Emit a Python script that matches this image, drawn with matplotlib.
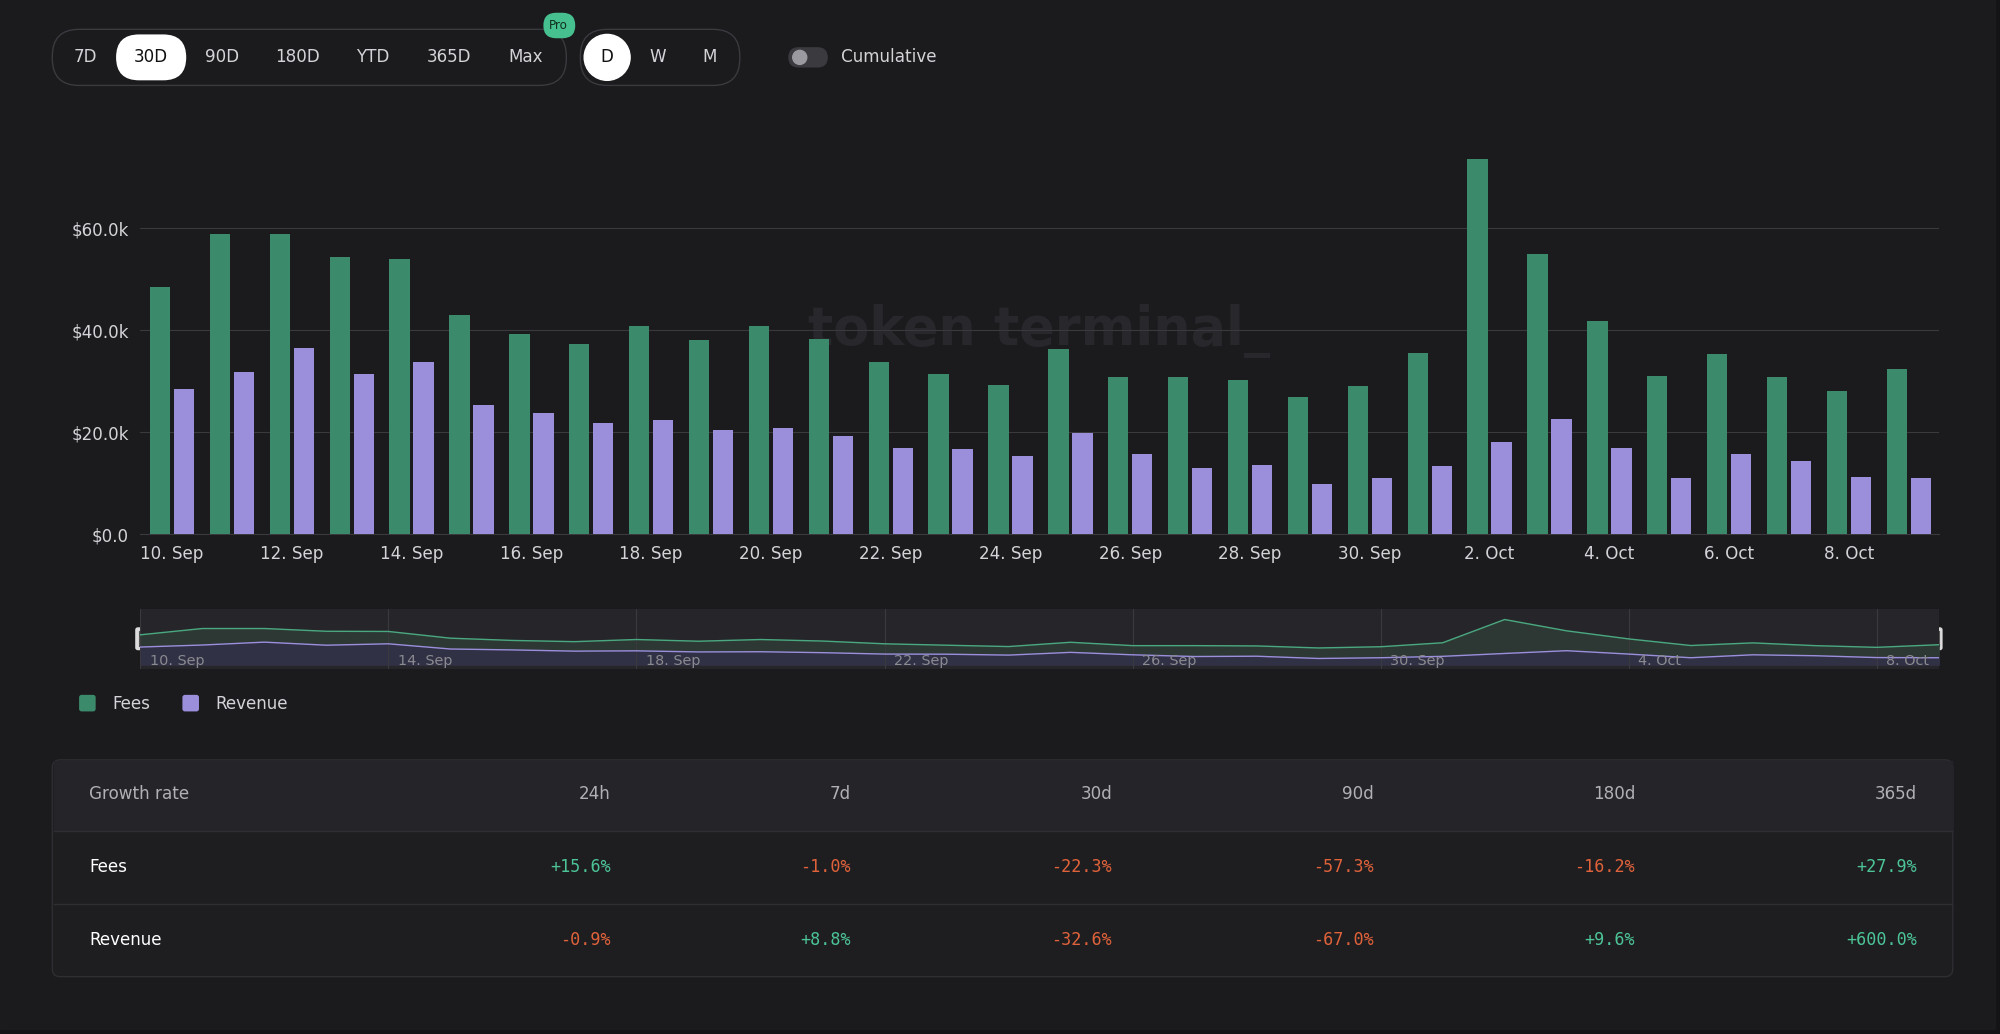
import numpy as np
import matplotlib.pyplot as plt
from matplotlib.patches import FancyBboxPatch, Rectangle, Circle

dates = ["10. Sep", "11. Sep", "12. Sep", "13. Sep", "14. Sep", "15. Sep", "16. Sep", "17. Sep",
         "18. Sep", "19. Sep", "20. Sep", "21. Sep", "22. Sep", "23. Sep", "24. Sep", "25. Sep",
         "26. Sep", "27. Sep", "28. Sep", "29. Sep", "30. Sep", "1. Oct", "2. Oct", "3. Oct",
         "4. Oct", "5. Oct", "6. Oct", "7. Oct", "8. Oct", "9. Oct"]
fees = [48.5, 58.8, 58.8, 54.3, 54.0, 43.0, 39.3, 37.3, 40.8, 38.0, 40.8, 38.3, 33.8, 31.5, 29.3,
        36.3, 30.8, 30.8, 30.3, 27.0, 29.0, 35.5, 73.5, 55.0, 41.8, 31.0, 35.3, 30.8, 28.0, 32.3]
revenue = [28.5, 31.8, 36.5, 31.5, 33.8, 25.3, 23.8, 21.8, 22.3, 20.5, 20.8, 19.3, 17.0, 16.8, 15.3,
           19.8, 15.8, 13.0, 13.5, 9.8, 11.0, 13.3, 18.0, 22.5, 17.0, 11.0, 15.8, 14.3, 11.3, 11.0]
periods = ["24h", "7d", "30d", "90d", "180d", "365d"]
fees_growth = ["+15.6%", "-1.0%", "-22.3%", "-57.3%", "-16.2%", "+27.9%"]
rev_growth = ["-0.9%", "+8.8%", "-32.6%", "-67.0%", "+9.6%", "+600.0%"]

BG = "#1b1b1e"
GREEN = "#3b8a6c"
PURPLE = "#9b8fdc"
TXT = "#d4d4d8"
POS = "#4cc497"
NEG = "#e0623a"
W, H = 1568, 811

fig = plt.figure(figsize=(20, 10.34), dpi=100, facecolor="#141416")
ov = fig.add_axes([0, 0, 1, 1])
ov.set_xlim(0, W)
ov.set_ylim(H, 0)
ov.axis("off")
ov.add_patch(Rectangle((0, 0), W - 4, H - 4, color=BG, zorder=0))

def fs(px):
    return px * 0.86

def box(x0, y0, x1, y1, r, fc, ec="none", z=1, lw=1):
    ov.add_patch(FancyBboxPatch((x0 + r, y0 + r), x1 - x0 - 2 * r, y1 - y0 - 2 * r,
                                boxstyle=f"round,pad={r}", fc=fc, ec=ec, lw=lw, zorder=z))

# top controls
box(41, 23, 444, 67, 21, BG, "#3a3a3f")
box(91, 27, 146, 63, 18, "white", z=2)
for lab, x in zip(["7D", "30D", "90D", "180D", "YTD", "365D", "Max"],
                  [67, 118, 174, 233, 292, 352, 412]):
    ov.text(x, 45, lab, color="#111" if lab == "30D" else TXT, fontsize=fs(14),
            ha="center", va="center", zorder=3)
box(426, 10, 451, 30, 10, "#45c08e", z=4)
ov.text(438, 20, "Pro", color="#10301f", fontsize=fs(10), ha="center", va="center", zorder=5)
box(455, 23, 580, 67, 21, BG, "#3a3a3f")
ov.add_patch(Circle((476, 45), 18, color="white", zorder=2))
for lab, x in zip(["D", "W", "M"], [476, 516, 556]):
    ov.text(x, 45, lab, color="#111" if lab == "D" else TXT, fontsize=fs(14),
            ha="center", va="center", zorder=3)
box(618, 37, 649, 53, 8, "#3a3a3f", z=2)
ov.add_patch(Circle((627, 45), 5.5, color="#9a9aa0", zorder=3))
ov.text(659, 45, "Cumulative", color=TXT, fontsize=fs(14), va="center")

# watermark
ov.text(815, 260, "token terminal_", color="#28282c", fontsize=fs(44), fontweight="bold",
        ha="center", va="center", zorder=0.5)

# main chart
x = np.arange(len(dates))
ax = fig.add_axes([110 / W, 1 - 419 / H, 1410 / W, 310 / H])
ax.patch.set_alpha(0)
ax.bar(x - 0.2, fees, width=0.34, color=GREEN, zorder=3)
ax.bar(x + 0.2, revenue, width=0.34, color=PURPLE, zorder=3)
ax.set_xlim(-0.53, 29.5)
ax.set_ylim(0, 310 / 4)
ax.set_yticks([0, 20, 40, 60])
ax.set_yticklabels(["$0.0", "$20.0k", "$40.0k", "$60.0k"])
ax.set_xticks(x[::2])
ax.set_xticklabels(dates[::2])
ax.grid(axis="y", color="#3a3a3e", lw=0.8)
for s in ax.spines.values():
    s.set_visible(False)
ax.spines["bottom"].set_visible(True)
ax.spines["bottom"].set_color("#3a3a3e")
ax.tick_params(colors=TXT, labelsize=fs(14), length=0, pad=8)

# navigator
nav = fig.add_axes([110 / W, 1 - 525 / H, 1410 / W, 47 / H])
nav.set_facecolor("#26262a")
nav.fill_between(x, fees, color="#2f3d37", alpha=0.8)
nav.plot(x, fees, color="#4aa880", lw=1)
nav.fill_between(x, revenue, color="#32304a", alpha=0.8)
nav.plot(x, revenue, color=PURPLE, lw=1)
nav.set_xlim(0, 29)
nav.set_ylim(-8, 90)
nav.set_yticks([])
nav.set_xticks(x[::4])
nav.set_xticklabels([])
nav.grid(axis="x", color="#3a3a3e", lw=0.8)
nav.tick_params(length=0)
for s in nav.spines.values():
    s.set_visible(False)
for i in range(0, 30, 4):
    nav.text(i + 0.15, -6, dates[i], color="#8a8a90", fontsize=fs(12), va="bottom")
for hx in [110, 1519]:
    box(hx - 4, 492, hx + 4, 510, 2, "#dcdcdc", z=5)
    ov.plot([hx - 1, hx - 1], [495, 507], color="#555", lw=0.8, zorder=6)
    ov.plot([hx + 1, hx + 1], [495, 507], color="#555", lw=0.8, zorder=6)

# legend
for lx, col, lab in [(62, GREEN, "Fees"), (143, PURPLE, "Revenue")]:
    box(lx, 545, lx + 13, 558, 2, col, z=2)
    ov.text(lx + 26, 552, lab, color=TXT, fontsize=fs(14), va="center")

# table
box(41, 596, 1531, 766, 6, "#1e1e21", "#2e2e33")
ov.add_patch(Rectangle((42, 597), 1488, 55, color="#252529", zorder=1.5))
for yl in [652, 709]:
    ov.plot([42, 1530], [yl, yl], color="#2e2e33", lw=1, zorder=2)
colx = [479, 667, 872, 1077, 1282, 1503]
ov.text(70, 623, "Growth rate", color="#b0b0b6", fontsize=fs(14), va="center", zorder=3)
for p, cx in zip(periods, colx):
    ov.text(cx, 623, p, color="#b0b0b6", fontsize=fs(14), va="center", ha="right", zorder=3)
for rowy, name, vals in [(680, "Fees", fees_growth), (737, "Revenue", rev_growth)]:
    ov.text(70, rowy, name, color="white", fontsize=fs(14), va="center", zorder=3)
    for v, cx in zip(vals, colx):
        ov.text(cx, rowy, v, color=POS if v.startswith("+") else NEG, fontsize=fs(14),
                family="DejaVu Sans Mono", va="center", ha="right", zorder=3)

fig.savefig("out.png", dpi=100, facecolor=fig.get_facecolor())
